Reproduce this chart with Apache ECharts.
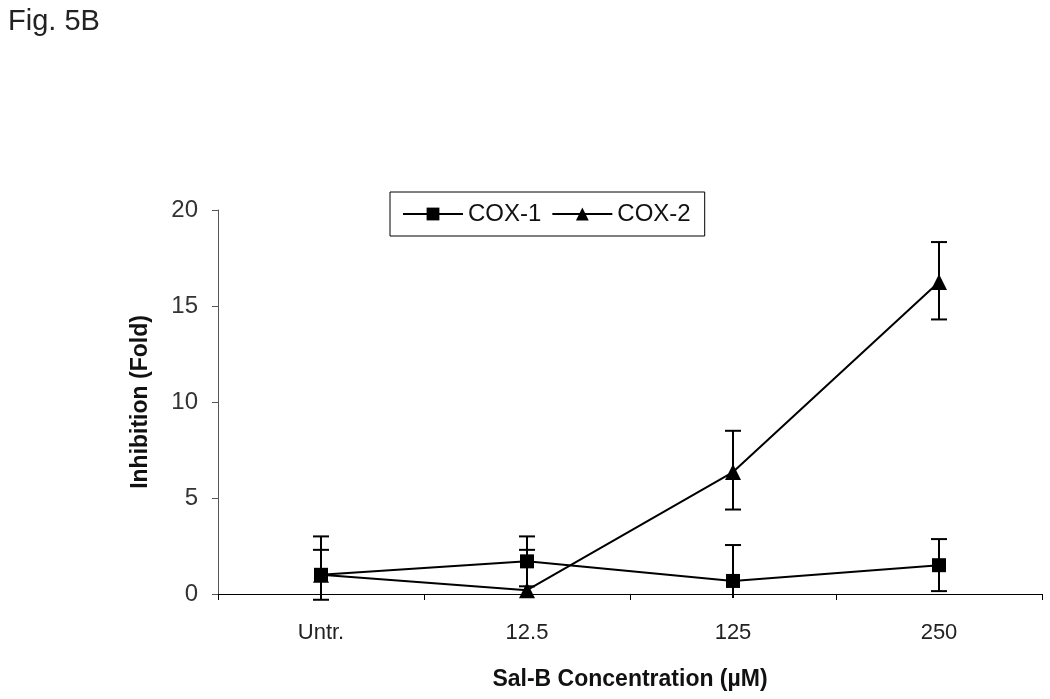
<!DOCTYPE html>
<html>
<head>
<meta charset="utf-8">
<script src="https://cdn.jsdelivr.net/npm/echarts@6/dist/echarts.min.js"></script>
<style>
  html, body { margin: 0; padding: 0; background: #fff; }
  #chart { width: 1050px; height: 699px; }
</style>
</head>
<body>
<div id="chart"></div>
<script>
const categories = ['Untr.', '12.5', '125', '250']
const yTicks = [0, 5, 10, 15, 20]

const cox1 = [1.0, 1.7, 0.68, 1.5]
const cox1Hi = [2.3, 3.0, 2.55, 2.86]
const cox1Lo = [-0.3, 0.4, null, 0.15]

const cox2 = [1.0, 0.2, 6.35, 16.25]
const cox2Hi = [3.0, 2.3, 8.5, 18.33]
const cox2Lo = [null, null, 4.4, 14.3]

const font = 'Liberation Sans, Arial, sans-serif'

const errData = (hi, lo) => hi.map((h, i) => [i, h, lo[i] == null ? NaN : lo[i]])

const renderErr = (params, api) => {
  const x = api.value(0)
  const hi = api.coord([x, api.value(1)])
  const loVal = api.value(2)
  const hasLo = !isNaN(loVal)
  const lo = api.coord([x, hasLo ? loVal : 0])
  const cap = 8
  const style = { stroke: '#000', lineWidth: 2 }
  const children = [
    { type: 'line', shape: { x1: hi[0], y1: hi[1], x2: lo[0], y2: lo[1] + (hasLo ? 0 : 4) }, style },
    { type: 'line', shape: { x1: hi[0] - cap, y1: hi[1], x2: hi[0] + cap, y2: hi[1] }, style }
  ]
  if (hasLo) {
    children.push({ type: 'line', shape: { x1: lo[0] - cap, y1: lo[1], x2: lo[0] + cap, y2: lo[1] }, style })
  }
  return { type: 'group', children }
}

const myChart = echarts.init(document.getElementById('chart'))
myChart.setOption({
  animation: false,
  backgroundColor: '#fff',
  title: {
    text: 'Fig. 5B',
    left: 3,
    top: 2,
    textStyle: { fontFamily: font, fontSize: 29, fontWeight: 'normal', color: '#222' }
  },
  legend: {
    data: ['COX-1', 'COX-2'],
    left: 390,
    top: 192,
    borderColor: '#000',
    borderWidth: 1,
    padding: [10, 14, 10, 12],
    itemGap: 10,
    itemWidth: 60,
    itemHeight: 16,
    textStyle: { fontFamily: font, fontSize: 24, color: '#111' }
  },
  grid: { left: 218, top: 210, right: 8, bottom: 105, containLabel: false },
  xAxis: {
    type: 'category',
    data: categories,
    boundaryGap: true,
    name: 'Sal-B Concentration (µM)',
    nameLocation: 'middle',
    nameGap: 74,
    nameTextStyle: { fontFamily: font, fontSize: 23, fontWeight: 'bold', color: '#111' },
    axisLine: { lineStyle: { color: '#000', width: 1 } },
    axisTick: { show: true, length: 6, lineStyle: { color: '#000' } },
    axisLabel: { fontFamily: font, fontSize: 22, color: '#222', margin: 28 },
    splitLine: { show: false }
  },
  yAxis: {
    type: 'value',
    min: yTicks[0],
    max: yTicks[yTicks.length - 1],
    interval: 5,
    name: 'Inhibition (Fold)',
    nameLocation: 'middle',
    nameGap: 66,
    nameRotate: 90,
    nameTextStyle: { fontFamily: font, fontSize: 23, fontWeight: 'bold', color: '#111' },
    axisLine: { show: true, lineStyle: { color: '#555', width: 1 } },
    axisTick: { show: true, length: 6, lineStyle: { color: '#555' } },
    axisLabel: { fontFamily: font, fontSize: 24, color: '#333', margin: 20 },
    splitLine: { show: false }
  },
  series: [
    {
      name: 'COX-1',
      type: 'line',
      data: cox1,
      symbol: 'rect',
      symbolSize: 14,
      color: '#000',
      lineStyle: { color: '#000', width: 2 },
      itemStyle: { color: '#000' },
      z: 3
    },
    {
      name: 'COX-2',
      type: 'line',
      data: cox2,
      symbol: 'triangle',
      symbolSize: 16,
      color: '#000',
      lineStyle: { color: '#000', width: 2 },
      itemStyle: { color: '#000' },
      z: 3
    },
    {
      name: 'COX-1 err',
      type: 'custom',
      renderItem: renderErr,
      data: errData(cox1Hi, cox1Lo),
      clip: false,
      z: 2
    },
    {
      name: 'COX-2 err',
      type: 'custom',
      renderItem: renderErr,
      data: errData(cox2Hi, cox2Lo),
      clip: false,
      z: 2
    }
  ]
})
</script>
</body>
</html>
